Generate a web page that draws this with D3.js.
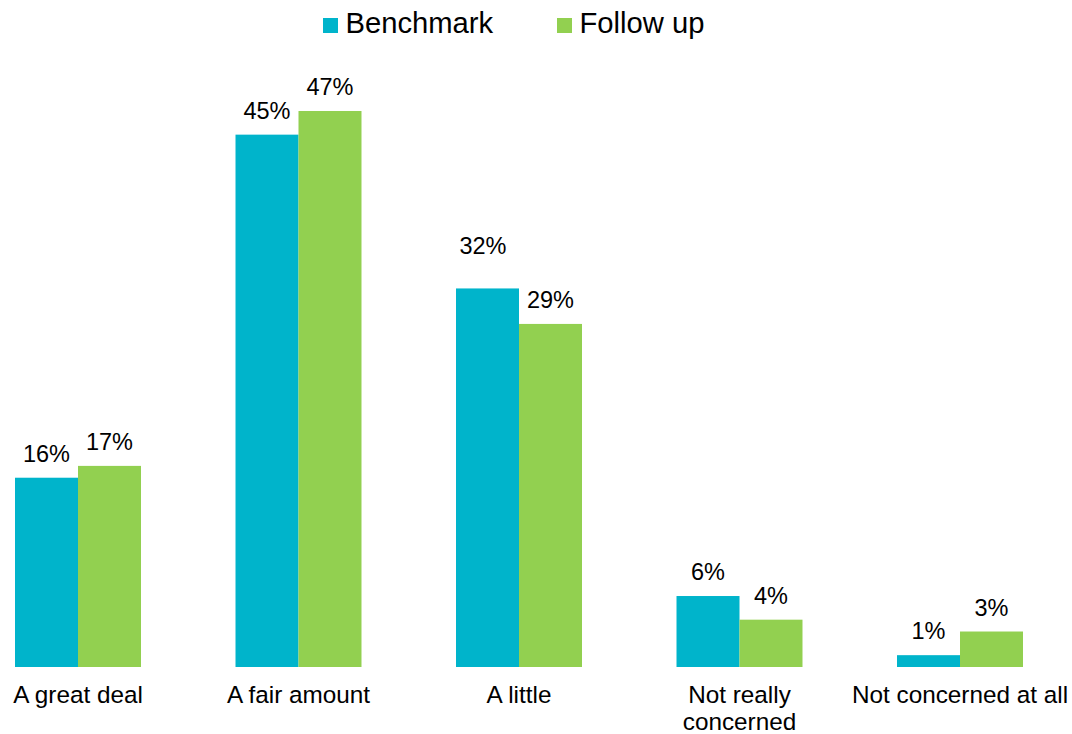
<!DOCTYPE html>
<html>
<head>
<meta charset="utf-8">
<script src="https://cdn.jsdelivr.net/npm/d3@7/dist/d3.min.js"></script>
<style>
  html, body { margin: 0; padding: 0; background: #fff; }
  svg { display: block; }
  text { font-family: "Liberation Sans", Arial, sans-serif; fill: #000; }
</style>
</head>
<body>
<svg id="chart" width="1072" height="734"></svg>
<script>
// Level of concern, benchmark vs follow-up survey (percent of respondents)
const categories = ["A great deal", "A fair amount", "A little", "Not really concerned", "Not concerned at all"];
const tickLabels = [["A great deal"], ["A fair amount"], ["A little"], ["Not really", "concerned"], ["Not concerned at all"]];
const seriesNames = ["Benchmark", "Follow up"];
const benchmark = [16, 45, 32, 6, 1];
const followUp = [17, 47, 29, 4, 3];

const colors = ["#00B4CB", "#92D050"];
const seriesValues = [benchmark, followUp];

const svg = d3.select("#chart");
const baseY = 667;
const topY = 75.5;

const x = d3.scaleBand()
  .domain(categories)
  .range([-32.25, 1070.25])
  .paddingInner(0.4286)
  .paddingOuter(0.2143);

const xs = d3.scaleBand()
  .domain(seriesNames)
  .range([0, x.bandwidth()])
  .padding(0);

const y = d3.scaleLinear().domain([0, 50]).range([baseY, topY]);

const rows = [];
categories.forEach((c, i) => {
  seriesNames.forEach((s, j) => {
    rows.push({ cat: c, series: s, si: j, value: seriesValues[j][i] });
  });
});

// Bars
svg.append("g").selectAll("rect")
  .data(rows)
  .join("rect")
  .attr("x", d => x(d.cat) + xs(d.series))
  .attr("y", d => y(d.value))
  .attr("width", xs.bandwidth())
  .attr("height", d => baseY - y(d.value))
  .attr("fill", d => colors[d.si]);

// Value labels (the "A little" benchmark label sits higher to clear its neighbour)
const nudge = d => (d.cat === "A little" && d.si === 0) ? { dx: -4.5, dy: -18 } : { dx: 0, dy: 0 };
svg.append("g").selectAll("text")
  .data(rows)
  .join("text")
  .attr("x", d => x(d.cat) + xs(d.series) + xs.bandwidth() / 2 + nudge(d).dx)
  .attr("y", d => y(d.value) - 16 + nudge(d).dy)
  .attr("text-anchor", "middle")
  .style("font-size", "23.5px")
  .text(d => d.value + "%");

// Category axis labels
const xAxis = d3.axisBottom(x).tickSize(0).tickFormat("");
const axisG = svg.append("g").attr("transform", `translate(0,${baseY})`).call(xAxis);
axisG.select(".domain").remove();
axisG.selectAll(".tick").each(function (d, i) {
  const t = d3.select(this).append("text")
    .attr("text-anchor", "middle")
    .attr("fill", "#000")
    .style("font-size", "24.3px");
  tickLabels[i].forEach((line, k) => {
    t.append("tspan").attr("x", 0).attr("y", 36 + k * 26.5).text(line);
  });
});

// Legend
const legendX = [323, 557];
const legend = svg.append("g").selectAll("g")
  .data(seriesNames)
  .join("g")
  .attr("transform", (d, i) => `translate(${legendX[i]},0)`);
legend.append("rect")
  .attr("x", 0).attr("y", 18)
  .attr("width", 15).attr("height", 15)
  .attr("fill", (d, i) => colors[i]);
legend.append("text")
  .attr("x", 22.5).attr("y", 33)
  .style("font-size", "29.2px")
  .text(d => d);
</script>
</body>
</html>
